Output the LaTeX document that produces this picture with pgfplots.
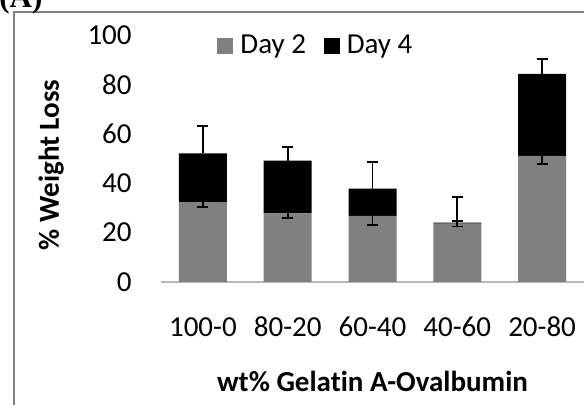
\documentclass[border=0pt]{standalone}
\usepackage{pgfplots}
\pgfplotsset{compat=1.18}
\usepackage{pgfplotstable}
\usepackage{fontspec}
\setmainfont{Carlito}[Ligatures=CommonOff]
\newfontfamily\timesfont{Liberation Serif}
\newcommand\chartfont{\fontsize{14.5}{17.4}\selectfont}
\definecolor{bargray}{RGB}{128,128,128}

% wt% gelatin A - ovalbumin, weight loss (%)
\pgfplotstableread{
x d2 d2err d4 d4err
0 32.3 1.8 19.8 11.1
1 27.8 1.8 21.3 5.4
2 26.8 3.8 11.0 10.9
3 23.6 1.1 0.4 10.5
4 51.1 3.4 33.2 5.9
}\weightloss

\begin{document}
\begin{tikzpicture}
\begin{axis}[
    at={(80.25pt,61.5pt)}, anchor=south west,
    scale only axis, width=212pt, height=123.5pt,
    ybar stacked, bar width=24pt,
    xmin=-0.5, xmax=4.5, ymin=0, ymax=100,
    xtick=data, xticklabels={100-0,80-20,60-40,40-60,20-80},
    ytick={0,20,...,100},
    axis x line*=bottom, axis y line*=left,
    x axis line style={-, draw=black!28, line width=0.8pt},
    y axis line style={draw=none},
    tick style={draw=none},
    clip=false,
    /pgf/number format/assume math mode=true,
    every tick label/.append style={font=\chartfont},
    yticklabel style={anchor=east, inner sep=0pt, xshift=-14.25pt},
    xticklabel style={anchor=base, inner sep=0pt, yshift=-27.5pt},
    ylabel={\% Weight Loss},
    ylabel style={font=\bfseries\chartfont, at={(axis description cs:-0.258,0.474)}, anchor=center},
    xlabel={wt\% Gelatin A-Ovalbumin},
    xlabel style={font=\bfseries\chartfont, at={(axis description cs:0.5,-0.445)}, anchor=base},
    legend columns=2,
    legend image code/.code={\fill[#1, draw=none] (0pt,-4pt) rectangle (8pt,4pt);},
    legend style={at={(0.1333,0.9555)}, anchor=west, draw=none, fill=none, inner sep=0pt,
        font=\chartfont, nodes={inner sep=0pt, text height=8pt, text depth=0pt},
        /tikz/every odd column/.append style={column sep=3.5pt},
        /tikz/every even column/.append style={column sep=8.9pt}},
]
\addplot[fill=bargray, draw=none,
    error bars/.cd, y dir=both, y explicit,
    error bar style={draw=black, line width=0.9pt},
    error mark options={rotate=90, mark size=2.75pt, draw=black, line width=0.9pt}]
    table[x=x, y=d2, y error=d2err] {\weightloss};
\addlegendentry{Day 2}
\addplot[fill=black, draw=none,
    error bars/.cd, y dir=plus, y explicit,
    error bar style={draw=black, line width=0.9pt},
    error mark options={rotate=90, mark size=2.75pt, draw=black, line width=0.9pt}]
    table[x=x, y=d4, y error=d4err] {\weightloss};
\addlegendentry{Day 4}
\end{axis}
\draw[black!50, line width=1pt] (7pt,-10pt) -- (7pt,196.5pt) -- (310pt,196.5pt);
\node[anchor=base west, inner sep=0pt, font=\timesfont\bfseries\fontsize{15.5}{18}\selectfont] at (-0.5pt,198.5pt) {(A)};
\pgfresetboundingbox
\path[use as bounding box] (0pt,0pt) rectangle (292pt,202.5pt);
\end{tikzpicture}
\end{document}
